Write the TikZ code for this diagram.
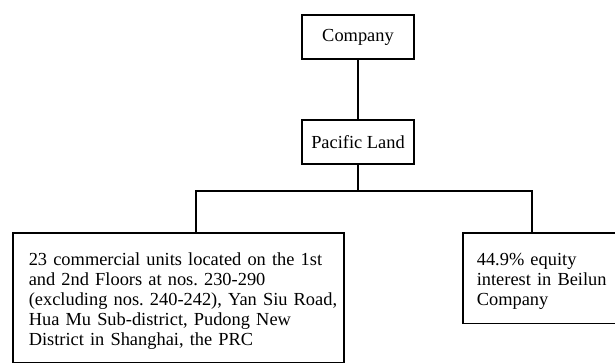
\documentclass[tikz,border=0pt]{standalone}
\usepackage{fontspec}
\setmainfont{Liberation Serif}
\usetikzlibrary{positioning}
\newcommand{\boxstrut}{\rule{0pt}{9.5pt}}

\begin{document}
\frenchspacing
\begin{tikzpicture}[x=0.5pt,y=-0.5pt,line width=0.8pt,
    box/.style={draw,rectangle,font=\fontsize{9.2}{9.9}\selectfont},
    small box/.style={box,minimum width=56pt,minimum height=22pt},
    text box/.style={box,anchor=north west,align=left,inner ysep=7pt}]
  \clip (0,0) rectangle (615,363);
  % holding structure
  \node[small box] (company) at (358,37) {Company};
  \node[small box] (pacific) at (358,142) {Pacific Land};
  \coordinate (busL) at (196,191);
  \coordinate (busR) at (532,191);
  \node[text box,text width=149.5pt,inner xsep=8pt] (units) at (12,232)
    {\boxstrut\mbox{23 commercial units located on the 1st}\\
     and 2nd Floors at nos. 230-290\\
     \mbox{(excluding nos. 240-242), Yan Siu Road,}\\
     Hua Mu Sub-district, Pudong New\\
     District in Shanghai, the PRC\\[8pt]};
  \node[text box,text width=80pt,inner xsep=7pt] (equity) at (462,232)
    {\boxstrut 44.9\% equity\\
     interest in Beilun\\
     Company};
  \draw (company) -- (pacific);
  \draw (pacific) -- (pacific |- busL);
  \draw (units.north -| busL) -- (busL) -- (busR) -- (equity.north -| busR);
\end{tikzpicture}
\end{document}
